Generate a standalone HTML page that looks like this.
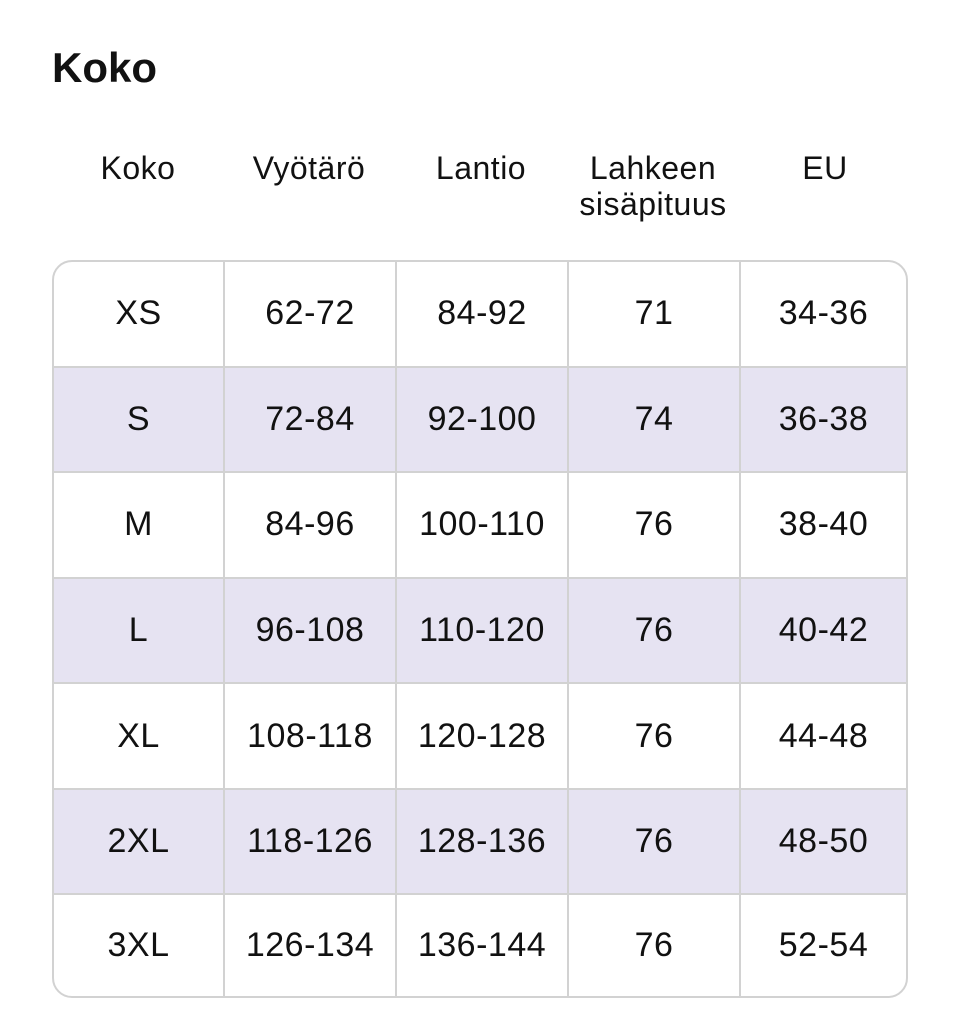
<!DOCTYPE html>
<html><head><meta charset="utf-8"><style>
body{margin:0;width:960px;height:1032px;background:#fff;font-family:"Liberation Sans",sans-serif;color:#111;position:relative;overflow:hidden}
.t{position:absolute;left:52px;top:44px;font-size:42px;font-weight:bold;}
.h{position:absolute;font-size:32px;text-align:center;line-height:36px;width:172px;letter-spacing:0.5px}
table{position:absolute;left:52px;top:260px;width:856px;height:738px;border-collapse:separate;border-spacing:0;border:2px solid #d2d2d2;border-radius:20px;overflow:hidden;box-sizing:border-box;table-layout:fixed}
td{border-right:2px solid #d2d2d2;border-bottom:2px solid #d2d2d2;text-align:center;font-size:34px;padding:0;letter-spacing:0.5px}
td:last-child{border-right:none}
tr:last-child td{border-bottom:none}
tr:nth-child(even) td{background:#e6e3f2}
</style></head><body>
<div class="t">Koko</div>
<div class="h" style="left:52px;top:150px">Koko</div>
<div class="h" style="left:223px;top:150px">Vyötärö</div>
<div class="h" style="left:395px;top:150px">Lantio</div>
<div class="h" style="left:567px;top:150px">Lahkeen<br>sisäpituus</div>
<div class="h" style="left:739px;top:150px">EU</div>
<table>
<colgroup><col style="width:171px"><col style="width:172px"><col style="width:172px"><col style="width:172px"><col></colgroup>
<tr><td>XS</td><td>62-72</td><td>84-92</td><td>71</td><td>34-36</td></tr>
<tr><td>S</td><td>72-84</td><td>92-100</td><td>74</td><td>36-38</td></tr>
<tr><td>M</td><td>84-96</td><td>100-110</td><td>76</td><td>38-40</td></tr>
<tr><td>L</td><td>96-108</td><td>110-120</td><td>76</td><td>40-42</td></tr>
<tr><td>XL</td><td>108-118</td><td>120-128</td><td>76</td><td>44-48</td></tr>
<tr><td>2XL</td><td>118-126</td><td>128-136</td><td>76</td><td>48-50</td></tr>
<tr><td>3XL</td><td>126-134</td><td>136-144</td><td>76</td><td>52-54</td></tr>
</table>
</body></html>
